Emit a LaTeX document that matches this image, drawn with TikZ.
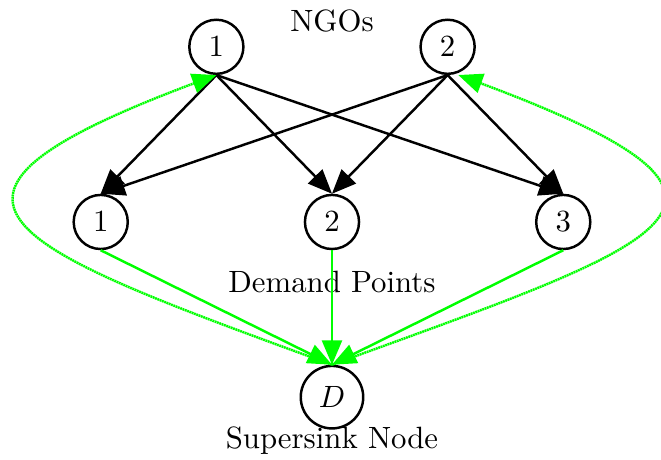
\documentclass[tikz,border=0pt]{standalone}
\usepackage{tikz}
\usetikzlibrary{arrows}

\begin{document}
\begin{tikzpicture}[thick,>=triangle 45]
        \tikzset{vertex/.style={draw,circle},
                 backflow/.style={->,green,dash pattern=on 0.6pt off 0.2pt}}
        \useasboundingbox (-3.79,-2.717) rectangle (3.756,2.534);
        \begin{scope}
          \def\gap{2.64}
          \def\lvl{2}

          \node[vertex] (n1) at (-\gap/2,\lvl) {$1$};
          \node[vertex] (n2) at (\gap/2,\lvl) {$2$};
          \node (ngos) at (0,2.29) {NGOs};

          \foreach \i in {1,2,3}
          \node[vertex] (d\i) at ({(\i-2)*\gap},0) {$\i$};
          \node (demand) at (0,-0.69) {Demand Points};

          \node[vertex] (D) at (0,-\lvl) {$D$};
          \node (sink) at (0,-2.5) {Supersink Node};

          \foreach \n in {n1,n2} {
            \foreach \d in {d1,d2,d3}
            \draw[->] (\n.south) -- (\d.north);
          }
          \foreach \d in {d1,d2,d3}
          \draw[->,green] (\d.south) -- (D.north);

          \draw[backflow] (D.north) to[out=160,in=200,looseness=2.95] (n1.south);
          \draw[backflow] (D.north) to[out=20,in=-20,looseness=3] ([xshift=3.5pt]n2.south);
        \end{scope}
      \end{tikzpicture}
\end{document}
